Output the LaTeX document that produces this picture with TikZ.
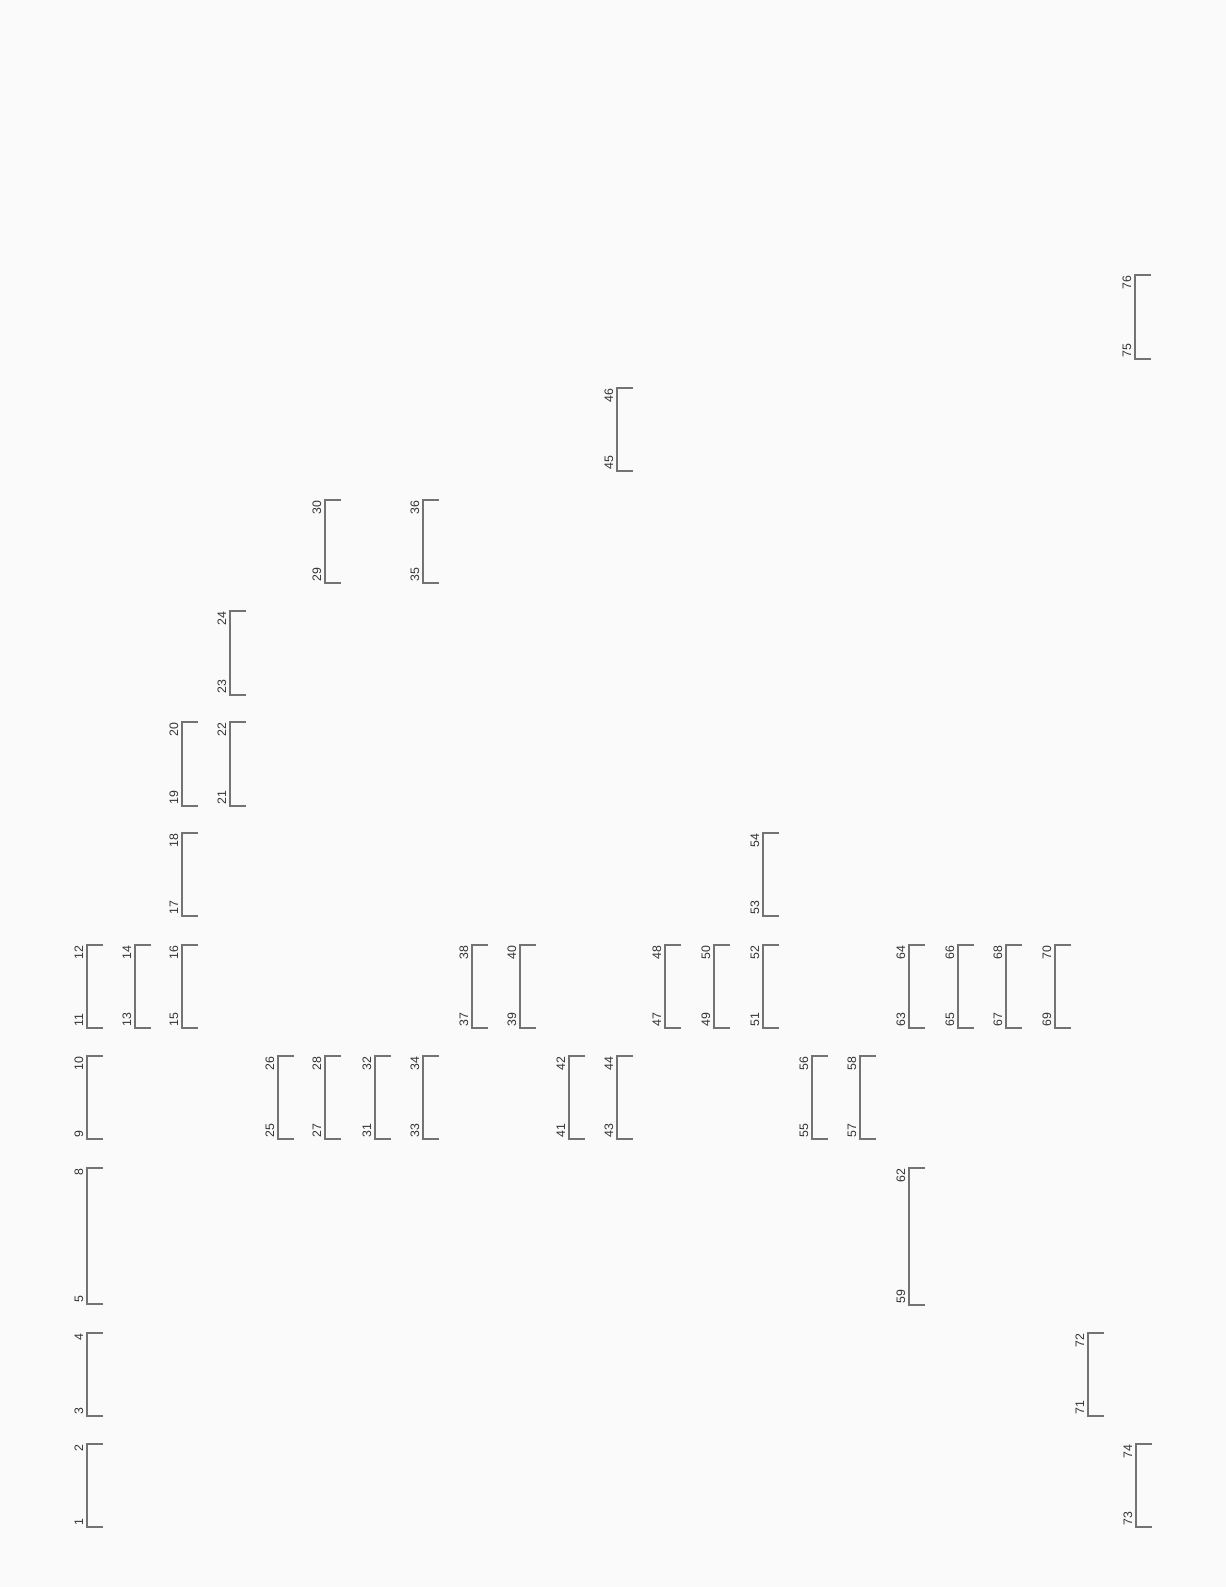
\documentclass[tikz,border=0pt]{standalone}
\usepackage{fontspec}
\setmainfont{Liberation Sans}
\usetikzlibrary{positioning}

\begin{document}
\begin{tikzpicture}[
    x=0.02cm, y=-0.02cm,
    bracket/.style={draw=black!55, line width=0.6pt},
    num/.style={rotate=90, inner sep=0pt, text=black!80, font=\fontsize{7}{8}\selectfont}
]

    % --- PAGE ---
    \fill[black!2] (0,0) rectangle (1226,1587);
    \useasboundingbox (0,0) rectangle (1226,1587);

    % --- BRACKETS: x / top / bottom / lower number / upper number ---
    \foreach \x/\yt/\yb/\lo/\hi in {
        87/1444/1527/1/2, 87/1333/1416/3/4, 87/1168/1304/5/8, 87/1056/1139/9/10,
        87/945/1028/11/12, 135/945/1028/13/14, 182/945/1028/15/16,
        182/833/916/17/18, 182/722/806/19/20, 230/722/806/21/22, 230/611/695/23/24,
        278/1056/1139/25/26, 325/1056/1139/27/28, 325/500/583/29/30,
        375/1056/1139/31/32, 423/1056/1139/33/34, 423/500/583/35/36,
        472/945/1028/37/38, 520/945/1028/39/40,
        569/1056/1139/41/42, 617/1056/1139/43/44, 617/388/471/45/46,
        665/945/1028/47/48, 714/945/1028/49/50, 763/945/1028/51/52, 763/833/916/53/54,
        812/1056/1139/55/56, 860/1056/1139/57/58, 909/1168/1305/59/62,
        909/945/1028/63/64, 958/945/1028/65/66, 1006/945/1028/67/68, 1055/945/1028/69/70,
        1088/1333/1416/71/72, 1136/1444/1527/73/74, 1135/275/359/75/76} {
        \coordinate (b\lo) at (\x,\yb);
        \coordinate (t\hi) at (\x,\yt);
        \draw[bracket] (\x+16,\yb) -- (b\lo) -- (t\hi) -- (\x+16,\yt);
        \node[num, anchor=south west] (n\lo) at (\x-3.5,\yb-1) {\lo};
        \node[num, anchor=south east] (n\hi) at (\x-3.5,\yt) {\hi};
    }

\end{tikzpicture}
\end{document}
